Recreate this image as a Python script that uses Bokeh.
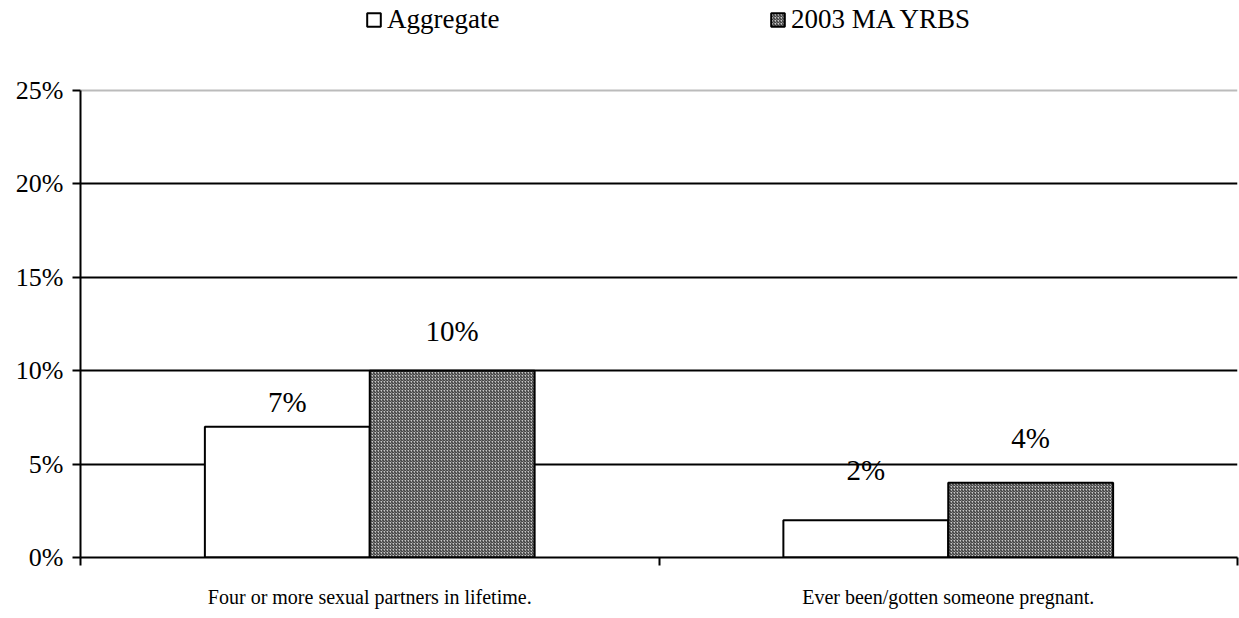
from bokeh.plotting import figure
from bokeh.models import (ColumnDataSource, FixedTicker, Grid, Legend, LegendItem,
                          Range1d, LabelSet)
from bokeh.embed import file_html
from bokeh.resources import INLINE

categories = ["Four or more sexual partners in lifetime.", "Ever been/gotten someone pregnant."]
aggregate = [7, 2]
yrbs = [10, 4]
series_names = ["Aggregate", "2003 MA YRBS"]
y_ticks = [0, 5, 10, 15, 20, 25]

FONT = "'Liberation Serif', 'Times New Roman', serif"
bar_w = 0.285
label_offsets_agg = [1.3, 2.66]
label_offsets_yrbs = [2.15, 2.42]
Y_TOP = 29.82  # extra headroom above 25% so the legend sits inside the frame

p = figure(width=1239, height=610, output_backend="svg", toolbar_location=None,
           x_range=Range1d(0, len(categories)), y_range=Range1d(0, Y_TOP),
           min_border_left=80, min_border_right=2, min_border_top=0, min_border_bottom=53)
p.outline_line_color = None
p.background_fill_color = "white"

centers = [i + 0.5 for i in range(len(categories))]
src_a = ColumnDataSource(dict(x=[c - bar_w / 2 for c in centers], top=aggregate,
                              ly=[v + o for v, o in zip(aggregate, label_offsets_agg)],
                              lab=[f"{v}%" for v in aggregate]))
src_b = ColumnDataSource(dict(x=[c + bar_w / 2 for c in centers], top=yrbs,
                              ly=[v + o for v, o in zip(yrbs, label_offsets_yrbs)],
                              lab=[f"{v}%" for v in yrbs]))

# grid lines
p.xgrid.visible = False
p.ygrid.ticker = FixedTicker(ticks=y_ticks[1:-1])
p.ygrid.grid_line_color = "black"
p.ygrid.grid_line_width = 2
top_grid = Grid(dimension=1, ticker=FixedTicker(ticks=[y_ticks[-1]]),
                grid_line_color="#bbbbbb", grid_line_width=2)
p.add_layout(top_grid)

ra = p.vbar(x="x", top="top", width=bar_w, source=src_a, fill_color="white",
            line_color="black", line_width=2)
rb = p.vbar(x="x", top="top", width=bar_w, source=src_b, fill_color="#c8c8c8",
            hatch_pattern="right_diagonal_line", hatch_scale=3, hatch_weight=1,
            hatch_color="#222222", line_color="black", line_width=2)

for s in (src_a, src_b):
    p.add_layout(LabelSet(x="x", y="ly", text="lab", source=s, text_font=FONT,
                          text_font_size="29px", text_align="center",
                          text_baseline="middle", text_color="black"))

# axes
p.yaxis.ticker = FixedTicker(ticks=y_ticks)
p.yaxis.bounds = (y_ticks[0], y_ticks[-1])
p.yaxis.major_label_overrides = {t: f"{t}%" for t in y_ticks}
p.yaxis.axis_line_width = 2
p.yaxis.major_tick_line_width = 2
p.yaxis.major_tick_out = 8
p.yaxis.major_tick_in = 0
p.yaxis.minor_tick_line_color = None
p.yaxis.major_label_text_font = FONT
p.yaxis.major_label_text_font_size = "26px"
p.yaxis.major_label_text_color = "black"
p.yaxis.major_label_standoff = 9

p.xaxis.ticker = FixedTicker(ticks=centers, minor_ticks=[0, 1, 2])
p.xaxis.major_label_overrides = {c: cat for c, cat in zip(centers, categories)}
p.xaxis.major_tick_line_color = None
p.xaxis.minor_tick_line_width = 2
p.xaxis.minor_tick_out = 8
p.xaxis.minor_tick_in = 0
p.xaxis.axis_line_width = 2
p.xaxis.major_label_text_font = FONT
p.xaxis.major_label_text_font_size = "20px"
p.xaxis.major_label_text_color = "black"
p.xaxis.major_label_standoff = 20

legend = Legend(items=[LegendItem(label=series_names[0], renderers=[ra]),
                       LegendItem(label=series_names[1], renderers=[rb])],
                orientation="horizontal", location=(285, 522),
                glyph_width=17, glyph_height=17, label_standoff=5,
                label_width=382, spacing=0, padding=0, margin=0,
                label_text_font=FONT, label_text_font_size="27px",
                label_text_color="black",
                border_line_color=None, background_fill_alpha=0)
p.add_layout(legend, "center")

open("out.html", "w").write(file_html(p, INLINE))
